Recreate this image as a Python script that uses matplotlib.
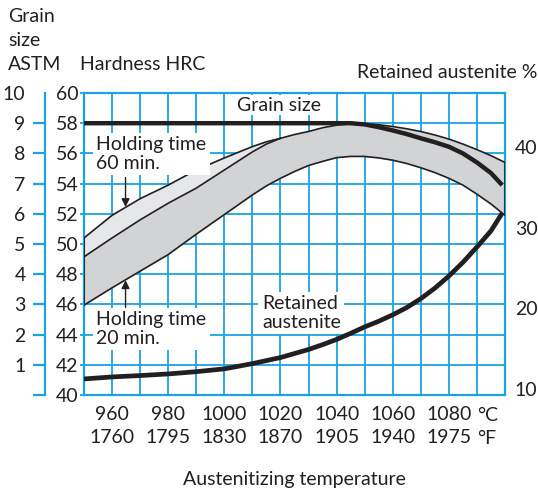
import matplotlib
matplotlib.use("Agg")
import matplotlib.pyplot as plt

plt.rcParams['font.family'] = ['Lato', 'DejaVu Sans']
plt.rcParams['font.size'] = 14

BLUE = "#1aa3e0"
INK = "#231f20"
LIGHT = "#e6e7e8"
DARK = "#d1d3d4"

# hardness band, HRC
band_t = [950, 960, 970, 980, 990, 1000, 1010, 1015, 1020, 1025, 1030, 1035, 1040, 1045, 1050,
          1055, 1060, 1065, 1070, 1075, 1080, 1085, 1090, 1095, 1100]
hrc_upper = [50.4, 51.9, 53.0, 53.9, 54.9, 55.7, 56.45, 56.77, 57.0, 57.25, 57.45, 57.7, 57.87, 57.96, 57.96,
             57.9, 57.78, 57.63, 57.45, 57.22, 56.95, 56.62, 56.25, 55.85, 55.4]
hrc_lower = [45.95, 47.1, 48.2, 49.3, 50.65, 51.95, 53.25, 53.85, 54.35, 54.8, 55.2, 55.47, 55.72, 55.8, 55.8,
             55.7, 55.55, 55.33, 55.05, 54.73, 54.35, 53.9, 53.3, 52.65, 51.9]
# inner boundary, merges with the upper curve at ~1020 C
mid_t = [950, 960, 970, 980, 990, 1000, 1010, 1015, 1020]
hrc_mid = [49.15, 50.4, 51.6, 52.7, 53.7, 54.9, 56.1, 56.62, 57.0]

# grain size ASTM
grain_t = [950, 1040, 1045, 1050, 1055, 1060, 1065, 1070, 1075, 1080, 1085, 1090, 1095, 1099]
grain = [9.0, 9.0, 9.0, 8.96, 8.87, 8.76, 8.64, 8.5, 8.37, 8.22, 8.0, 7.7, 7.35, 6.95]

# retained austenite %
ret_t = [950, 960, 970, 980, 990, 1000, 1010, 1020, 1030, 1035, 1040, 1045, 1050, 1055, 1060,
         1065, 1070, 1075, 1080, 1085, 1090, 1095, 1099]
retained = [11.25, 11.5, 11.67, 11.87, 12.15, 12.5, 13.15, 13.9, 14.9, 15.5, 16.15, 16.9, 17.7, 18.4, 19.2,
            20.1, 21.2, 22.5, 24.0, 25.7, 27.6, 29.6, 31.8]

c_ticks = [960, 980, 1000, 1020, 1040, 1060, 1080]
f_ticks = [1760, 1795, 1830, 1870, 1905, 1940, 1975]
hrc_ticks = list(range(40, 61, 2))
astm_ticks = list(range(0, 11))
ret_ticks = [10, 20, 30, 40]

fig = plt.figure(figsize=(5.38, 4.92), dpi=100)
ax = fig.add_axes([84 / 538, 1 - 395 / 492, 421 / 538, 302 / 492])
ax.set_xlim(950, 1100)
ax.set_ylim(40, 60)

# grid
ax.set_axisbelow(True)
ax.set_xticks(c_ticks)
ax.set_xticks(range(950, 1101, 10), minor=True)
ax.set_xticklabels([f"{c}\n{f}" for c, f in zip(c_ticks, f_ticks)], linespacing=1.45)
ax.set_yticks(hrc_ticks)
ax.grid(True, which='both', color=BLUE, lw=1.3)
ax.tick_params(axis='x', which='both', length=0, pad=8, labelcolor=INK)
ax.tick_params(axis='y', length=3, width=1.3, color=BLUE, pad=1, labelcolor=INK)
for s in ax.spines.values():
    s.set_color(BLUE)
    s.set_linewidth(1.6)

# band
ax.fill_between(band_t, hrc_lower, hrc_upper, color=DARK, lw=0, zorder=2)
ax.fill_between(mid_t, hrc_mid, hrc_upper[:len(mid_t)], color=LIGHT, lw=0, zorder=2)
thin = dict(color=INK, lw=1.2, zorder=3, solid_joinstyle='round')
ax.plot(band_t, hrc_upper, **thin)
ax.plot(band_t, hrc_lower, **thin)
ax.plot(mid_t, hrc_mid, **thin)
ax.plot([band_t[0]] * 2, [hrc_lower[0], hrc_upper[0]], **thin)
ax.plot([band_t[-1]] * 2, [hrc_lower[-1], hrc_upper[-1]], **thin)

box = dict(facecolor='white', edgecolor='none', pad=2.5)
ax.text(954.3, 55.96, "Holding time\n60 min.", ha='left', va='center', linespacing=1.1,
        color=INK, bbox=box, zorder=4)
ax.text(954.3, 44.37, "Holding time\n20 min.", ha='left', va='center', linespacing=1.1,
        color=INK, bbox=box, zorder=4)
ax.text(1013.4, 45.43, "Retained\naustenite", ha='left', va='center', linespacing=1.1,
        color=INK, bbox=box, zorder=4)
ax.text(1004.5, 59.2, "Grain size", ha='left', va='center', color=INK,
        bbox=dict(facecolor='white', edgecolor='none', pad=1), zorder=4)

arrow = dict(arrowstyle='-|>', color=INK, lw=1.0, mutation_scale=12, shrinkA=0, shrinkB=0)
ax.annotate("", xy=(964.8, 52.45), xytext=(964.8, 54.4), arrowprops=arrow, zorder=4)
ax.annotate("", xy=(964.8, 47.6), xytext=(964.8, 45.8), arrowprops=arrow, zorder=4)

ax.text(1090, -0.106, "°C\n°F", transform=ax.get_xaxis_transform(), ha='left', va='center',
        linespacing=1.45, color=INK)

# grain size axis (far left)
ax_g = ax.twinx()
ax_g.set_ylim(0, 10)
ax_g.yaxis.set_ticks_position('left')
ax_g.yaxis.set_label_position('left')
for k in ['right', 'top', 'bottom']:
    ax_g.spines[k].set_visible(False)
ax_g.spines['left'].set_position(('axes', -39 / 421))
ax_g.spines['left'].set_color(BLUE)
ax_g.spines['left'].set_linewidth(1.6)
ax_g.set_yticks(astm_ticks)
ax_g.set_yticklabels([""] + [str(v) for v in astm_ticks[1:]])
ax_g.tick_params(axis='y', length=9, width=1.6, color=BLUE, pad=5, labelcolor=INK)
ax_g.yaxis.get_major_ticks()[-1].tick1line.set_visible(False)
ax_g.plot(grain_t, grain, color=INK, lw=3.2, solid_capstyle='butt', solid_joinstyle='round')

# retained austenite axis (right)
ax_r = ax.twinx()
ax_r.set_ylim(9.26, 46.69)
for s in ax_r.spines.values():
    s.set_visible(False)
ax_r.set_yticks(ret_ticks)
ax_r.tick_params(axis='y', length=0, pad=7, labelcolor=INK)
ax_r.plot(ret_t, retained, color=INK, lw=3.4, solid_capstyle='butt', solid_joinstyle='round')

fig.text(8 / 538, 1 - 17 / 492, "Grain", ha='left', va='center', color=INK)
fig.text(8 / 538, 1 - 41 / 492, "size", ha='left', va='center', color=INK)
fig.text(8 / 538, 1 - 64 / 492, "ASTM", ha='left', va='center', color=INK)
fig.text(80 / 538, 1 - 64 / 492, "Hardness HRC", ha='left', va='center', color=INK)
fig.text(537 / 538, 1 - 72 / 492, "Retained austenite %", ha='right', va='center', color=INK)
fig.text(294 / 538, 1 - 480 / 492, "Austenitizing temperature", ha='center', va='center', color=INK)

fig.savefig("out.png", dpi=100)
